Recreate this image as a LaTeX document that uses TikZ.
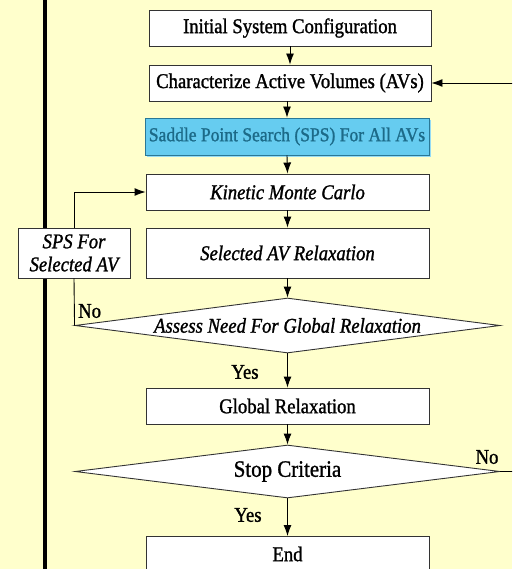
\documentclass[tikz,border=0pt]{standalone}
\usepackage{fontspec}
\setmainfont{Liberation Serif}
\newfontfamily\boxfont[FakeStretch=0.89, FakeBold=1.2]{Liberation Serif}
\usetikzlibrary{arrows.meta,shapes.geometric}
\definecolor{paper}{HTML}{FFFFCC}
\definecolor{spsfill}{HTML}{66CCF0}
\definecolor{spsedge}{HTML}{2A7896}
\definecolor{spstext}{HTML}{1C6A88}
\definecolor{edge}{HTML}{333333}
\tikzset{
  boxtext/.style={font=\boxfont\fontsize{21}{22}\selectfont},
  boxitalic/.style={font=\boxfont\fontsize{21}{22}\selectfont\itshape},
  stepbox/.style={draw=edge, line width=0.9pt, fill=white, inner sep=0pt, boxtext},
  decision/.style={draw=edge, line width=0.9pt, fill=white, shape=diamond,
    inner sep=0pt, minimum width=425pt},
  flow/.style={-{Latex[length=11pt,width=8pt]}, line width=0.9pt, black},
  plain/.style={line width=0.9pt, black},
  answer/.style={font=\boxfont\fontsize{21}{22}\selectfont, inner sep=0pt},
}
\begin{document}
\begin{tikzpicture}[x=1pt,y=-1pt]
  \useasboundingbox (0,0) rectangle (512,569);
  \clip (0,0) rectangle (512,569);
  \fill[paper] (0,0) rectangle (512,569);
  % left rule
  \fill[black] (42.5,0) rectangle (46.5,569);

  % process boxes
  \node[stepbox, minimum width=282pt, minimum height=36pt] (init) at (290,28) {Initial System Configuration};
  \node[stepbox, minimum width=282pt, minimum height=36pt] (charav) at (290,83) {Characterize Active Volumes (AVs)};
  \fill[spsfill!70] (147,120) rectangle (431,157.5);
  \node[stepbox, draw=spsedge, fill=spsfill, text=spstext, minimum width=284pt, minimum height=37pt,
        font=\boxfont\fontsize{19.7}{22}\selectfont] (sps) at (287,136.5) {Saddle Point Search (SPS) For All AVs};
  \node[stepbox, minimum width=283pt, minimum height=36pt, boxitalic] (kmc) at (287.5,192) {Kinetic Monte Carlo};
  \node[stepbox, minimum width=283pt, minimum height=50pt, boxitalic] (relax) at (287.5,253) {Selected AV Relaxation};
  \node[stepbox, minimum width=112pt, minimum height=50pt, align=center, font=\boxfont\fontsize{21}{23}\selectfont\itshape] (spssel) at (74,253) {SPS For\\Selected AV};
  \node[decision, minimum height=55pt] (assess) at (287.5,325.5) {};
  \node[boxitalic, inner sep=0pt] at (assess) {Assess Need For Global Relaxation};
  \node[stepbox, minimum width=283pt, minimum height=36pt] (global) at (287.5,406) {Global Relaxation};
  \node[decision, minimum height=53pt] (stop) at (287.5,471.5) {};
  \node[font=\boxfont\fontsize{23.5}{24}\selectfont, inner sep=0pt] at (stop) {Stop Criteria};
  \node[stepbox, minimum width=283pt, minimum height=40pt, anchor=north] (finish) at (287.5,536) {};
  \node[boxtext, inner sep=0pt] at (287.5,554) {End};

  % main flow
  \draw[flow] (init.south) -- (init.south |- charav.north);
  \draw[flow] (charav.south -| sps.north) -- (sps.north);
  \draw[flow] (sps.south) -- (kmc.north);
  \draw[flow] (kmc.south) -- (relax.north);
  \draw[flow] (relax.south) -- (assess.north);
  \draw[flow] (assess.south) -- (global.north);
  \draw[flow] (global.south) -- (stop.north);
  \draw[flow] (stop.south) -- (finish.north);

  % local loop back to kinetic Monte Carlo
  \draw[plain] (assess.west) -- (spssel.south);
  \draw[flow] (spssel.north) |- (kmc.west);

  % outer loop back to AV characterization
  \coordinate (rim) at (522,0);
  \draw[flow] (stop.east) -- (stop.east -| rim) |- (charav.east);

  % branch labels
  \node[answer, anchor=west] at (78,311) {No};
  \node[answer] at (245,372) {Yes};
  \node[answer] at (487,457) {No};
  \node[answer] at (248,515) {Yes};
\end{tikzpicture}
\end{document}
